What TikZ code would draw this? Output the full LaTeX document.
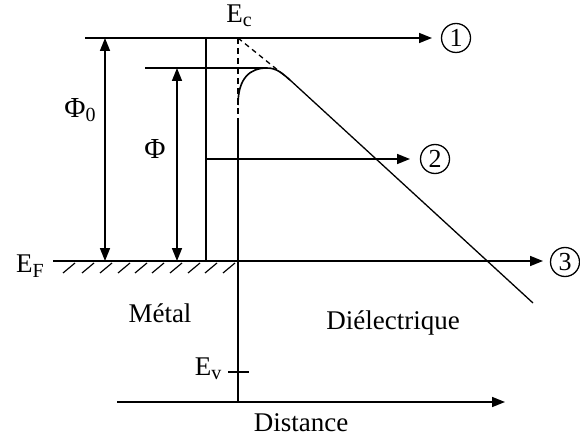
\documentclass[tikz,border=0pt]{standalone}
\usepackage{fontspec}
\setmainfont{Liberation Serif}
\usetikzlibrary{arrows.meta}
\tikzset{
  lbl/.style={inner sep=0pt, font=\fontsize{27}{30}\selectfont},
  ln/.style={line width=1.6pt},
  thin/.style={line width=1.3pt},
  arr/.style={ln, -{Triangle[length=13pt,width=10pt]}},
  darr/.style={ln, {Triangle[length=13pt,width=10pt]}-{Triangle[length=13pt,width=10pt]}},
  circ/.style={circle, draw, line width=1.3pt, minimum size=29pt, inner sep=0pt, font=\fontsize{26}{28}\selectfont}
}
\newcommand{\sbs}[1]{\raisebox{-0.35ex}{\fontsize{20}{21}\selectfont #1}}
\begin{document}
\begin{tikzpicture}[x=1pt,y=-1pt]
\useasboundingbox (0,0) rectangle (580,438);
% coordinates
\coordinate (ecL) at (85,38);
\coordinate (ecR) at (432,38);
\coordinate (metTop) at (206,38);
\coordinate (metBot) at (206,261);
\coordinate (ifTop) at (238,38);
\coordinate (ifMid) at (238,120);
\coordinate (ifBot) at (238,402);
\coordinate (efL) at (53,261);
\coordinate (efR) at (543,261);
\coordinate (p0T) at (105,38);
\coordinate (p0B) at (105,261);
\coordinate (p1T) at (177,68);
\coordinate (p1B) at (177,261);
\coordinate (hL) at (145,68);
\coordinate (peak) at (267,68);
\coordinate (curveStart) at (238,105);
\coordinate (tang) at (290,80);
\coordinate (diagEnd) at (533,303);
\coordinate (a2L) at (206,159);
\coordinate (a2R) at (410,159);
\coordinate (dL) at (117,402);
\coordinate (dR) at (505,402);
\coordinate (evL) at (228,372);
\coordinate (evR) at (249,372);

% circled labels
\node[circ] (c1) at (456,38) {1};
\node[circ] (c2) at (435,159) {2};
\node[circ] (c3) at (565,262) {3};

% main lines
\draw[arr] (ecL) -- (ecR);
\draw[ln] (metTop) -- (metBot);
\draw[ln, dashed, dash pattern=on 6pt off 4pt] (ifTop) -- (ifMid);
\draw[ln] (ifMid) -- (ifBot);
\draw[arr] (efL) -- (efR);
\draw[darr] (p0T) -- (p0B);
\draw[darr] (p1T) -- (p1B);
\draw[thin] (hL) -- (peak);
\draw[thin, dashed, dash pattern=on 5pt off 4pt] (ifTop) -- (tang);
\draw[ln] (curveStart) .. controls (238,78) and (250,68) .. (peak) .. controls (277,68) and (283,74) .. (tang);
\draw[thin] (tang) -- (diagEnd);
\draw[arr] (a2L) -- (a2R);
\draw[arr] (dL) -- (dR);
\draw[ln] (evL) -- (evR);

% hatching
\foreach \x in {63,82,100,118,135,152,170,188,205,223}
  \draw[line width=1.2pt] (\x,273) -- ++(12,-10);

% labels
\node[lbl] (ec) at (239,16) {E\sbs{c}};
\node[lbl] (ef) at (30,266) {E\sbs{F}};
\node[lbl] (ev) at (208,369) {E\sbs{v}};
\node[lbl, font=\fontsize{29}{31}\selectfont] (phi0) at (80,110) {Φ\sbs{0}};
\node[lbl, font=\fontsize{29}{31}\selectfont] (phi) at (155,149) {Φ};
\node[lbl] (metal) at (160,313) {Métal};
\node[lbl] (diel) at (393,323) {Diélectrique};
\node[lbl] (dist) at (301,423) {Distance};
\end{tikzpicture}
\end{document}
